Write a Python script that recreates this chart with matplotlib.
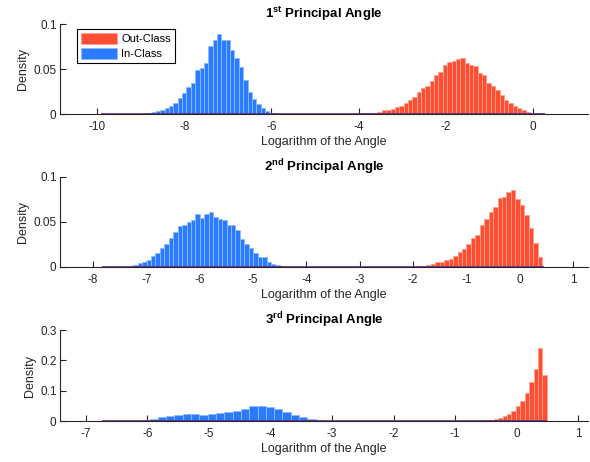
import numpy as np
import matplotlib
matplotlib.use('Agg')
from matplotlib import pyplot as plt
from matplotlib.patches import Patch

plt.rcParams['font.family'] = ['Liberation Sans', 'DejaVu Sans']
plt.rcParams['mathtext.fontset'] = 'custom'
plt.rcParams['mathtext.rm'] = 'Liberation Sans'
plt.rcParams['mathtext.bf'] = 'Liberation Sans:bold'

# --- data (densities per bin) ---
series_names = ['Out-Class', 'In-Class']
ordinals = ['1', '2', '3']
suffixes = ['st', 'nd', 'rd']

# 1st principal angle
p1_in_start, p1_in_width = -8.95, 0.1
p1_in = [0.001, 0.0015, 0.002, 0.003, 0.005, 0.007, 0.009, 0.012, 0.018, 0.023,
         0.030, 0.035, 0.049, 0.051, 0.057, 0.076, 0.082, 0.089, 0.082, 0.082,
         0.071, 0.062, 0.052, 0.038, 0.024, 0.017, 0.011, 0.007, 0.003, 0.001]
p1_out_start, p1_out_width = -3.97, 0.1
p1_out = [0.0007, 0.0007, 0.001, 0.0015, 0.0026, 0.004, 0.005, 0.006, 0.0074, 0.009,
          0.012, 0.016, 0.019, 0.024, 0.029, 0.031, 0.037, 0.043, 0.047, 0.054,
          0.058, 0.059, 0.061, 0.062, 0.057, 0.055, 0.053, 0.046, 0.043, 0.034,
          0.031, 0.027, 0.021, 0.016, 0.012, 0.009, 0.0067, 0.005, 0.0026, 0.001, 0.0007]
p1_support = (-9.9, 0.28)

# 2nd principal angle
p2_in_start, p2_in_width = -7.33, 0.0833
p2_in = [0.0015, 0.0025, 0.0044, 0.006, 0.0074, 0.012, 0.015, 0.021, 0.025, 0.032,
         0.039, 0.046, 0.047, 0.050, 0.052, 0.0585, 0.054, 0.059, 0.0615, 0.0555,
         0.053, 0.052, 0.047, 0.047, 0.041, 0.031, 0.026, 0.0215, 0.015, 0.011,
         0.0107, 0.005, 0.0033, 0.0019, 0.001, 0.0005]
p2_out_start, p2_out_width = -2.0, 0.0833
p2_out = [0.0005, 0.001, 0.0015, 0.002, 0.0033, 0.005, 0.006, 0.008, 0.009, 0.012,
          0.017, 0.020, 0.026, 0.032, 0.0355, 0.0465, 0.053, 0.061, 0.067, 0.077,
          0.0775, 0.083, 0.086, 0.0755, 0.069, 0.058, 0.0437, 0.027, 0.0107]
p2_support = (-7.84, 0.46)

# 3rd principal angle
p3_in_start, p3_in_width = -6.1, 0.135
p3_in = [0.002, 0.007, 0.012, 0.017, 0.021, 0.023, 0.023, 0.021, 0.022, 0.025,
         0.029, 0.034, 0.040, 0.050, 0.049, 0.046, 0.041, 0.031, 0.020, 0.012,
         0.0066, 0.003, 0.001]
p3_out_start, p3_out_width = -0.734, 0.072
p3_out = [0.0005, 0.001, 0.002, 0.0035, 0.005, 0.0075, 0.011, 0.017, 0.024, 0.034,
          0.048, 0.067, 0.091, 0.128, 0.172, 0.240, 0.152]
p3_support = (-6.74, 0.49)

panels = [
    dict(inc=(p1_in_start, p1_in_width, p1_in), out=(p1_out_start, p1_out_width, p1_out),
         support=p1_support, xlim=(-10.85, 1.26), xticks=np.arange(-10, 1, 2),
         ylim=(0, 0.1), yticks=[0, 0.05, 0.1], yticklabels=['0', '0.05', '0.1']),
    dict(inc=(p2_in_start, p2_in_width, p2_in), out=(p2_out_start, p2_out_width, p2_out),
         support=p2_support, xlim=(-8.62, 1.28), xticks=np.arange(-8, 2, 1),
         ylim=(0, 0.1), yticks=[0, 0.05, 0.1], yticklabels=['0', '0.05', '0.1']),
    dict(inc=(p3_in_start, p3_in_width, p3_in), out=(p3_out_start, p3_out_width, p3_out),
         support=p3_support, xlim=(-7.42, 1.16), xticks=np.arange(-7, 2, 1),
         ylim=(0, 0.3), yticks=[0, 0.1, 0.2, 0.3], yticklabels=['0', '0.1', '0.2', '0.3']),
]

red, red_edge = '#FF4F33', '#FF9E8F'
blue, blue_edge = '#2A7BFF', '#8DBBFF'
axis_col = '#262626'

fig = plt.figure(figsize=(5.9, 4.62), dpi=100)
bottoms = [0.7532, 0.4221, 0.0887]
heights = [0.1948, 0.1948, 0.197]

for i, p in enumerate(panels):
    ax = fig.add_axes([0.1017, bottoms[i], 0.895, heights[i]])

    for (start, w, vals), fc, ec in [(p['out'], red, red_edge), (p['inc'], blue, blue_edge)]:
        vals = np.array(vals)
        left = start + w * np.arange(len(vals))
        ax.bar(left, vals, width=w, align='edge', color=fc, edgecolor=ec,
               linewidth=0.6, zorder=2)

    ax.hlines(0, p['support'][0], p['support'][1], color='#5E2A8E', linewidth=1.2, zorder=3)

    ax.set_xlim(*p['xlim'])
    ax.set_ylim(*p['ylim'])
    ax.set_xticks(p['xticks'])
    ax.set_xticklabels([str(int(t)) for t in p['xticks']])
    ax.set_yticks(p['yticks'])
    ax.set_yticklabels(p['yticklabels'])

    for s in ['top', 'right']:
        ax.spines[s].set_visible(False)
    for s in ['left', 'bottom']:
        ax.spines[s].set_color(axis_col)
        ax.spines[s].set_linewidth(0.8)
    ax.tick_params(direction='in', length=4, width=0.8, color=axis_col,
                   labelcolor=axis_col, labelsize=8.5)
    ax.tick_params(axis='x', pad=5)
    ax.tick_params(axis='y', pad=2.5)

    ax.set_xlabel('Logarithm of the Angle', fontsize=9, color=axis_col, labelpad=2)
    ax.set_ylabel('Density', fontsize=9, color=axis_col, labelpad=3)
    ax.set_title(ordinals[i] + r'$^{\mathbf{' + suffixes[i] + '}}$ Principal Angle',
                 fontsize=9.5, fontweight='bold', pad=4)

    if i == 0:
        handles = [Patch(facecolor=red, edgecolor=red_edge, linewidth=0.6),
                   Patch(facecolor=blue, edgecolor=blue_edge, linewidth=0.6)]
        leg = ax.legend(handles, series_names, loc='upper left', bbox_to_anchor=(0.032, 0.945),
                        fontsize=8, handlelength=3.3, handleheight=1.2, handletextpad=0.35,
                        borderpad=0.35, labelspacing=0.3, fancybox=False, framealpha=1,
                        borderaxespad=0)
        leg.get_frame().set_edgecolor('black')
        leg.get_frame().set_linewidth(0.8)

fig.savefig('out.png', dpi=100)
